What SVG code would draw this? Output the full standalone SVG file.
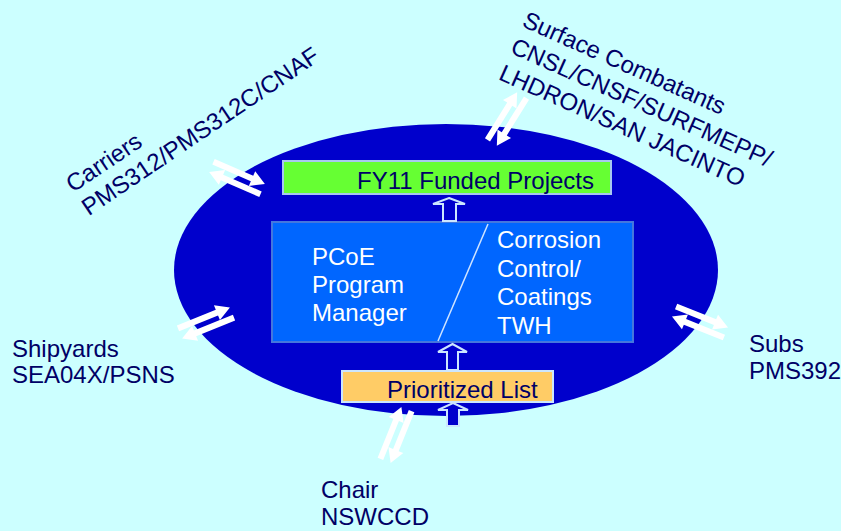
<svg xmlns="http://www.w3.org/2000/svg" xmlns:xlink="http://www.w3.org/1999/xlink" width="841" height="531" viewBox="0 0 841 531">
<style>
.lbl{font-family:"Liberation Sans",Arial,sans-serif;font-size:24px;fill:#000066}
.wht{font-family:"Liberation Sans",Arial,sans-serif;font-size:24px;fill:#ffffff}
.hollow{fill:#0000CC;stroke:#CCE6FF;stroke-width:2}
.dbl{fill:#ffffff}
</style>
<defs>
<g id="dbl">
<polygon points="-28,-8.5 14,-8.5 14,-13.5 28,-5.5 14,2.5 14,-2.5 -28,-2.5"/>
<polygon points="28,2.5 -14,2.5 -14,-2.5 -28,5.5 -14,13.5 -14,8.5 28,8.5"/>
</g>
</defs>
<rect x="0" y="0" width="841" height="531" fill="#CCFFFF"/>
<g id="ellipse">
<ellipse cx="446" cy="270" rx="272" ry="146" fill="#0000CC"/>
</g>
<g id="funded">
<rect x="283" y="161" width="328" height="33" fill="#66FF33" stroke="#A8C8F0" stroke-width="2"/>
<text class="lbl" x="357" y="189">FY11 Funded Projects</text>
</g>
<g id="pcoe">
<rect x="272" y="222" width="361" height="120" fill="#0066FF" stroke="#4477DD" stroke-width="2"/>
<line x1="488" y1="224" x2="438" y2="341" stroke="#D0E4FF" stroke-width="1.5"/>
<text class="wht" x="312" y="265">PCoE</text>
<text class="wht" x="312" y="293">Program</text>
<text class="wht" x="312" y="321">Manager</text>
<text class="wht" x="497" y="248">Corrosion</text>
<text class="wht" x="497" y="276.5">Control/</text>
<text class="wht" x="497" y="305">Coatings</text>
<text class="wht" x="497" y="333.5">TWH</text>
</g>
<g id="prioritized">
<rect x="342" y="371" width="211" height="31" fill="#FFCC66" stroke="#CCE6FF" stroke-width="2"/>
<text class="lbl" x="387" y="398">Prioritized List</text>
</g>
<g id="carriers">
<text class="lbl" transform="translate(73,193) rotate(-34)"><tspan x="0" y="0">Carriers</tspan><tspan x="0" y="28">PMS312/PMS312C/CNAF</tspan></text>
</g>
<g id="surface">
<text class="lbl" transform="translate(521,26) rotate(24)"><tspan x="0" y="0">Surface Combatants</tspan><tspan x="0" y="29">CNSL/CNSF/SURFMEPP/</tspan><tspan x="0" y="58">LHDRON/SAN JACINTO</tspan></text>
</g>
<g id="shipyards">
<text class="lbl" x="12" y="357">Shipyards</text>
<text class="lbl" x="12" y="383">SEA04X/PSNS</text>
</g>
<g id="subs">
<text class="lbl" x="749" y="352">Subs</text>
<text class="lbl" x="749" y="379">PMS392</text>
</g>
<g id="chair">
<text class="lbl" x="321" y="498">Chair</text>
<text class="lbl" x="321" y="525">NSWCCD</text>
</g>
<g id="connectors">
<polygon class="hollow" points="449,198 465,204 456,204 456,221 443,221 443,204 433,204"/>
<polygon class="hollow" points="452.5,344 467,352 458,352 458,370 447,370 447,352 438,352"/>
<polygon class="hollow" points="453,403 468,410 459,410 459,426 447,426 447,410 438,410"/>
<g class="dbl">
<use xlink:href="#dbl" transform="translate(237,178) rotate(23.5)"/>
<use xlink:href="#dbl" transform="translate(507,119) rotate(-58)"/>
<use xlink:href="#dbl" transform="translate(206,323) rotate(-22)"/>
<use xlink:href="#dbl" transform="translate(700,322) rotate(22)"/>
<use xlink:href="#dbl" transform="translate(396,435) rotate(-68)"/>
</g>
</g>
</svg>
